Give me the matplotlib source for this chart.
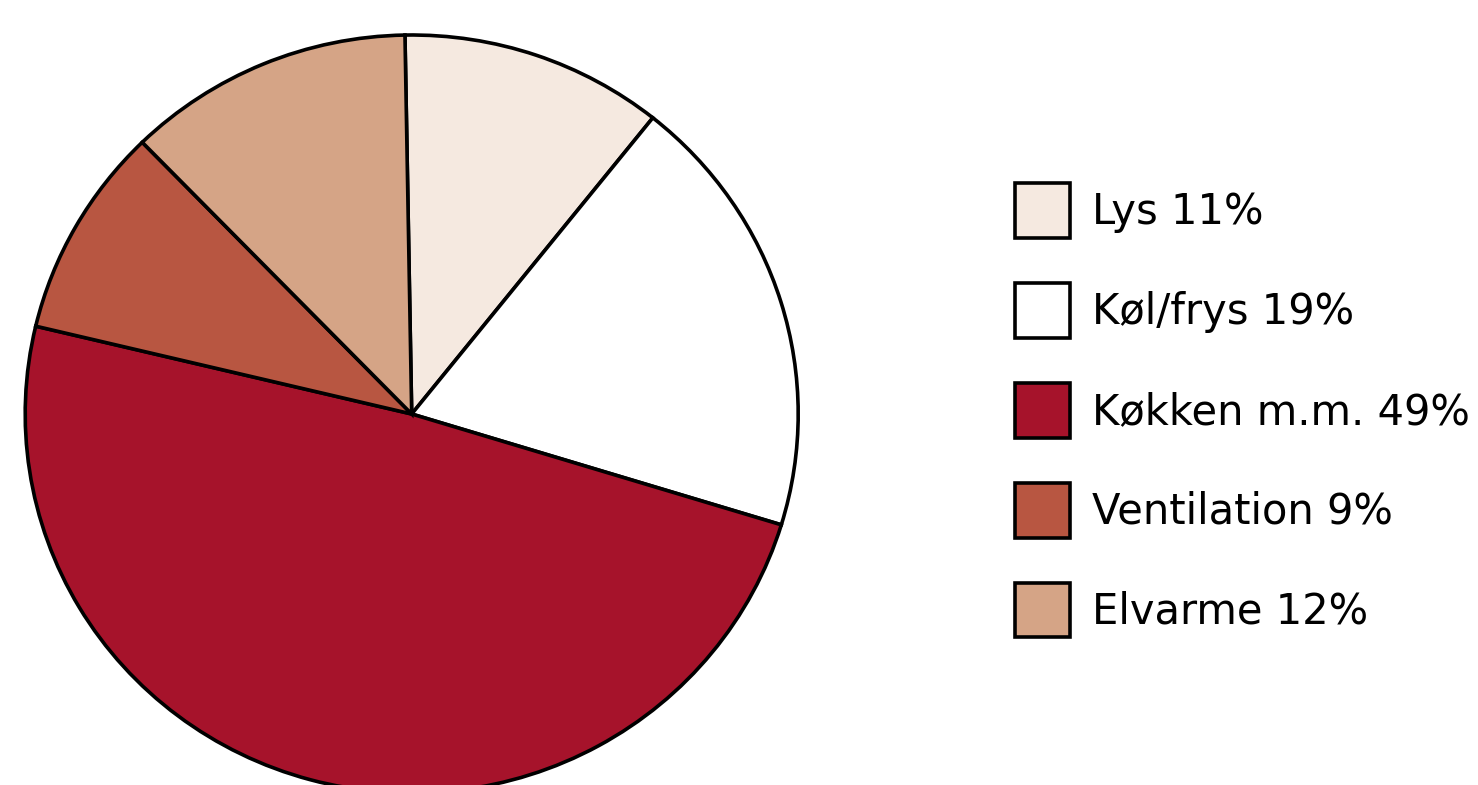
import matplotlib
matplotlib.use("Agg")
import matplotlib.pyplot as plt

labels = ["Lys 11%", "Køl/frys 19%", "Køkken m.m. 49%", "Ventilation 9%", "Elvarme 12%"]
shares = [11, 19, 49, 9, 12]
colors = ["#F5E9E0", "#FFFFFF", "#A6132B", "#B85641", "#D5A486"]

W, H = 1478, 785
# pie in the reference is a touch squashed vertically
rx, ry = 386.5, 379.0
sy = rx / ry

fig = plt.figure(figsize=(W / 100, H / 100), dpi=100)
ax = fig.add_axes([0, 0, 1, 1])

wedges, _ = ax.pie(shares, colors=colors, startangle=91, counterclock=False,
                   center=(411.7, (H - 414) * sy), radius=rx, frame=True,
                   wedgeprops=dict(edgecolor="black", linewidth=2.6))
ax.set_aspect("auto")
ax.set_xlim(0, W)
ax.set_ylim(0, H * sy)
ax.axis("off")

fs = 30
leg = ax.legend(wedges, labels, loc="upper left",
                bbox_to_anchor=(1015 / W, 1 - 183 / H), bbox_transform=fig.transFigure,
                frameon=False, borderpad=0, borderaxespad=0,
                handlelength=1.32, handleheight=1.65,
                handletextpad=0.52, labelspacing=1.08,
                prop=dict(family="DejaVu Sans", size=fs))
for h in leg.get_patches():
    h.set_linewidth(2.6)

fig.savefig("out.png", dpi=100)
